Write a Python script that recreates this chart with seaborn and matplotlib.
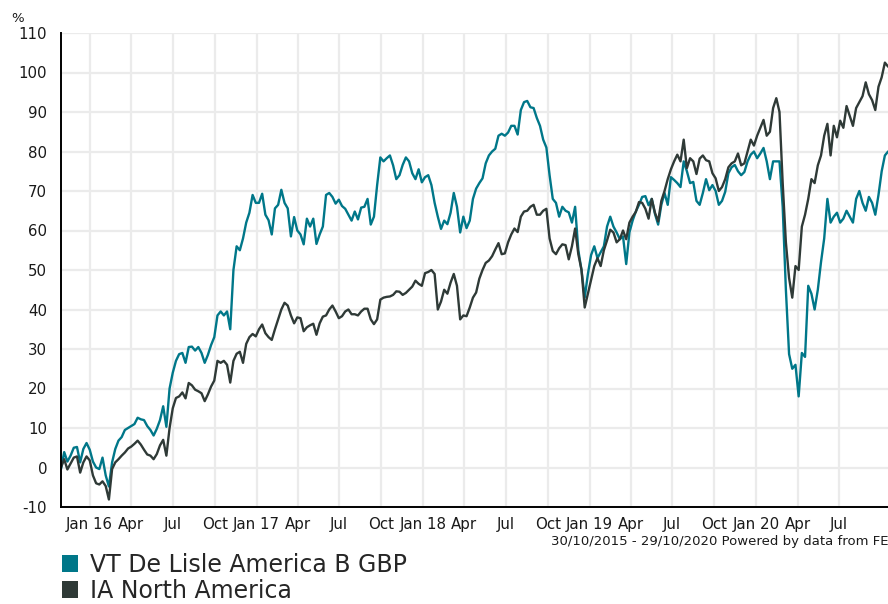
import pandas as pd
import numpy as np
import matplotlib
matplotlib.use("Agg")
import matplotlib.pyplot as plt
import matplotlib.dates as mdates
from matplotlib.patches import Patch
import seaborn as sns

# --- Data: weekly cumulative performance (%) ---
START = "2015-10-30"
END = "2020-10-29"

fund_name = "VT De Lisle America B GBP"
sector_name = "IA North America"

fund_pct = [
    -0.4, 3.9, 1.5, 3.0, 5.0, 5.2, 1.3, 4.7, 6.2, 4.5,
    1.5, 0.0, -0.4, 2.5, -2.0, -4.8, 1.3, 4.7, 6.8, 7.7,
    9.5, 10.0, 10.5, 11.0, 12.6, 12.2, 12.0, 10.5, 9.5, 8.1,
    9.8, 12.0, 15.5, 10.3, 20.0, 24.0, 27.0, 28.7, 29.0, 26.5,
    30.5, 30.6, 29.6, 30.5, 29.0, 26.5, 28.5, 31.0, 33.0, 38.5,
    39.5, 38.5, 39.5, 35.0, 50.0, 56.0, 55.0, 58.0, 62.0, 64.5,
    69.0, 67.0, 67.0, 69.3, 64.0, 62.6, 59.0, 65.6, 66.5, 70.3,
    67.0, 65.6, 58.5, 63.4, 60.0, 59.0, 56.5, 63.0, 61.0, 63.0,
    56.6, 59.0, 61.0, 69.0, 69.5, 68.5, 66.8, 67.8, 66.2, 65.5,
    64.0, 62.5, 64.8, 62.8, 65.8, 66.0, 68.0, 61.5, 63.5, 71.5,
    78.5, 77.5, 78.3, 79.0, 76.5, 73.0, 74.0, 76.6, 78.5, 77.5,
    74.5, 73.0, 75.5, 72.2, 73.5, 74.0, 71.5, 67.0, 63.5, 60.4,
    62.5, 61.6, 64.5, 69.5, 66.0, 59.5, 63.5, 60.6, 62.5, 68.0,
    70.6, 72.0, 73.2, 77.0, 79.0, 80.0, 80.7, 84.0, 84.5, 84.0,
    84.8, 86.5, 86.5, 84.3, 90.5, 92.5, 92.8, 91.2, 91.0, 88.5,
    86.5, 83.0, 81.0, 74.0, 68.0, 67.0, 63.5, 66.0, 65.0, 64.6,
    62.0, 66.0, 55.0, 50.0, 43.0, 49.0, 53.8, 56.0, 53.0, 54.5,
    56.0, 61.0, 63.5, 61.0, 59.5, 57.8, 58.5, 51.5, 59.5, 62.5,
    64.8, 66.5, 68.5, 68.7, 66.4, 68.0, 64.2, 61.5, 66.5, 69.5,
    66.5, 73.5, 72.8, 72.0, 71.0, 77.5, 75.0, 72.0, 72.3, 67.5,
    66.5, 69.5, 73.0, 70.2, 71.5, 70.0, 66.5, 67.5, 69.8, 74.5,
    76.0, 76.6, 75.0, 74.0, 74.8, 77.5, 79.2, 80.0, 78.3, 79.5,
    80.9, 77.5, 73.0, 77.5, 77.5, 77.5, 66.0, 45.0, 28.7, 25.0,
    26.0, 18.0, 29.0, 28.0, 46.0, 44.0, 40.0, 45.0, 52.0, 58.0,
    68.0, 62.0, 63.5, 64.5, 62.0, 63.0, 65.0, 63.5, 62.0, 68.0,
    70.0, 67.0, 65.0, 68.5, 67.0, 64.0, 69.0, 75.0, 79.0, 80.0,
    79.5,
]

sector_pct = [
    0.0, 2.1, -0.5, 1.0, 2.5, 2.8, -1.3, 1.3, 2.8, 1.8,
    -2.0, -4.0, -4.3, -3.5, -4.7, -8.1, -0.4, 1.3, 2.1, 3.0,
    3.8, 4.8, 5.3, 6.0, 6.8, 5.8, 4.5, 3.3, 3.0, 2.1,
    3.4, 5.6, 7.0, 3.0, 10.0, 15.0, 17.6, 18.0, 19.0, 17.5,
    21.4, 20.8, 19.7, 19.3, 18.8, 16.8, 18.5, 20.5, 22.0, 27.0,
    26.5, 27.0, 26.0, 21.5, 27.0, 28.8, 29.3, 26.5, 31.3, 33.0,
    33.8, 33.2, 35.0, 36.2, 34.0, 33.0, 32.3, 35.0, 37.5, 40.0,
    41.7, 41.0, 38.5, 36.5, 38.0, 37.8, 34.5, 35.5, 36.0, 36.4,
    33.6, 36.5, 38.2, 38.5, 40.0, 41.0, 39.5, 37.8, 38.3, 39.5,
    40.0, 38.8, 38.8, 38.5, 39.5, 40.2, 40.2, 37.5, 36.3, 37.5,
    42.5, 43.0, 43.2, 43.3, 43.7, 44.6, 44.5, 43.7, 44.2, 45.0,
    45.8, 47.3, 46.5, 46.0, 49.2, 49.5, 50.0, 49.0, 40.0, 42.0,
    45.0, 44.0, 46.8, 49.0, 46.0, 37.5, 38.5, 38.3, 40.5, 43.0,
    44.3, 47.8, 50.0, 51.8, 52.4, 53.5, 55.2, 56.8, 54.0, 54.2,
    57.0, 59.0, 60.5, 59.6, 63.5, 64.8, 65.0, 66.0, 66.5, 64.0,
    64.0, 65.0, 65.5, 58.0, 54.8, 54.0, 55.5, 56.5, 56.3, 52.7,
    56.0, 60.5, 54.0, 50.0, 40.5, 44.0, 47.5, 51.0, 53.0, 51.0,
    55.0, 57.5, 60.2, 59.5, 57.0, 57.8, 60.0, 57.8, 62.0, 63.5,
    64.7, 67.2, 67.0, 65.5, 63.0, 68.0, 64.5, 62.3, 67.5, 70.0,
    73.0, 75.5, 77.5, 79.2, 77.5, 83.0, 75.8, 78.3, 77.5, 74.3,
    78.2, 79.0, 77.8, 77.5, 74.5, 73.2, 70.0, 71.0, 73.0, 76.0,
    77.0, 77.5, 79.5, 76.5, 77.0, 80.0, 83.0, 81.5, 84.0, 86.0,
    88.0, 84.0, 85.0, 91.0, 93.5, 90.0, 72.0, 57.0, 48.0, 43.0,
    51.0, 50.0, 61.0, 64.0, 68.0, 73.0, 72.0, 76.5, 79.0, 84.0,
    87.0, 79.0, 86.5, 83.6, 87.8, 86.0, 91.5, 89.0, 86.5, 91.0,
    92.5, 94.0, 97.5, 94.5, 93.0, 90.5, 96.4, 98.8, 102.5, 101.5,
    101.0,
]

dates = pd.date_range(START, periods=len(fund_pct), freq="7D")
y_ticks = list(range(-10, 111, 10))

TEAL = "#007789"
DARK = "#2f3a37"

df = pd.concat([
    pd.DataFrame({"date": dates, "pct": fund_pct, "series": fund_name}),
    pd.DataFrame({"date": dates, "pct": sector_pct, "series": sector_name}),
])

# --- Plot ---
sns.set_style("white")
plt.rcParams["font.family"] = ["DejaVu Sans"]

fig = plt.figure(figsize=(8.88, 6.04), dpi=100)
ax = fig.add_axes([61 / 888, 97 / 604, 833 / 888, 474 / 604])

sns.lineplot(data=df, x="date", y="pct", hue="series",
             palette={fund_name: TEAL, sector_name: DARK},
             linewidth=1.7, legend=False, ax=ax)

ax.set_xlim(pd.Timestamp(START), pd.Timestamp(END))
ax.set_ylim(-10, 110)
ax.set_yticks(y_ticks)
ax.set_yticklabels([str(v) for v in y_ticks])

quarters = pd.date_range("2016-01-01", "2020-07-01", freq="QS")
ax.set_xticks(quarters)
ax.set_xticklabels([d.strftime("%b %y") if d.month == 1 else d.strftime("%b") for d in quarters])

ax.grid(True, color="#ebebeb", linewidth=1.6)
ax.set_axisbelow(True)
for side in ["top", "right"]:
    ax.spines[side].set_visible(False)
for side in ["left", "bottom"]:
    ax.spines[side].set_color("black")
    ax.spines[side].set_linewidth(1.4)
ax.tick_params(axis="both", which="major", direction="out", length=4, width=1.2,
               color="black", labelsize=10.8, labelcolor="#1a1a1a", pad=3)
ax.tick_params(axis="y", pad=6)
ax.set_xlabel("")
ax.set_ylabel("")

fig.text(11 / 888, 1 - 18 / 604, "%", fontsize=9.5, color="#1a1a1a", va="center", ha="left")
fig.text(888 / 888, 1 - 542 / 604, "30/10/2015 - 29/10/2020 Powered by data from FE",
         fontsize=9.5, color="#1a1a1a", ha="right", va="center")

handles = [Patch(facecolor=TEAL, edgecolor="none"), Patch(facecolor=DARK, edgecolor="none")]
fig.legend(handles, [fund_name, sector_name], loc="upper left",
           bbox_to_anchor=(62 / 888, 1 - 553 / 604), frameon=False,
           fontsize=17, handlelength=0.68, handleheight=0.7, handletextpad=0.52,
           labelspacing=0.08, borderpad=0, borderaxespad=0)

fig.savefig("out.png", dpi=100)
